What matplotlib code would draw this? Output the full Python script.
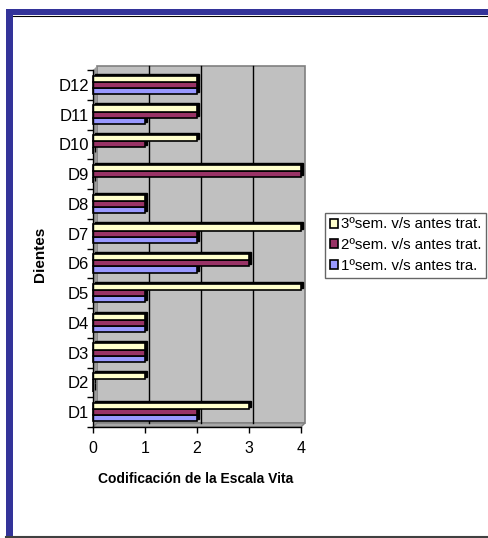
import matplotlib
matplotlib.use("Agg")
import matplotlib.pyplot as plt
from matplotlib.patches import Rectangle, Polygon
from matplotlib.lines import Line2D
import numpy as np

plt.rcParams['font.family'] = ['Liberation Sans', 'DejaVu Sans']

categories = ["D1", "D2", "D3", "D4", "D5", "D6", "D7", "D8", "D9", "D10", "D11", "D12"]
sem1 = [2, 0, 1, 1, 1, 2, 2, 1, 0, 0, 1, 2]
sem2 = [2, 0, 1, 1, 1, 3, 2, 1, 4, 1, 2, 2]
sem3 = [3, 1, 1, 1, 4, 3, 4, 1, 4, 2, 2, 2]
series_names = ["1ºsem. v/s antes tra.", "2ºsem. v/s antes trat.", "3ºsem. v/s antes trat."]
colors = ["#9999FF", "#993366", "#FFFFCC"]
xticks = [0, 1, 2, 3, 4]

W, H = 488, 538
fig = plt.figure(figsize=(W / 100, H / 100), dpi=100)
fig.patch.set_facecolor("white")

# outer frame
fig.add_artist(Rectangle((6 / W, 1 - 15 / H), 1 - 6 / W, 6 / H, transform=fig.transFigure,
                         fc="#333399", ec="none"))
fig.add_artist(Rectangle((6 / W, 1 - 537 / H), 7 / W, 528 / H, transform=fig.transFigure,
                         fc="#333399", ec="none"))
fig.add_artist(Line2D([13 / W, 1], [1 - 15.5 / H, 1 - 15.5 / H], transform=fig.transFigure,
                      color="black", lw=0.8))
fig.add_artist(Line2D([6 / W, 1], [1 - 536.5 / H, 1 - 536.5 / H], transform=fig.transFigure,
                      color="#404040", lw=1.5))

# axes (front plane)
x0, x1, ytop, ybot = 93, 301, 70, 427
ax = fig.add_axes([x0 / W, 1 - ybot / H, (x1 - x0) / W, (ybot - ytop) / H])
ax.set_facecolor("none")
n = len(categories)
ax.set_xlim(0, 4)
ax.set_ylim(-0.5, n - 0.5)

DX = 4 * 4.0 / (x1 - x0)
DY = 4 * n / (ybot - ytop)

# back wall, side wall, floor
ax.add_patch(Rectangle((DX, -0.5 + DY), 4, n, fc="#C0C0C0", ec="#808080", lw=1.2, zorder=0, clip_on=False))
ax.add_patch(Polygon([(0, -0.5), (DX, -0.5 + DY), (DX, n - 0.5 + DY), (0, n - 0.5)],
                     closed=True, fc="#9A9A9A", ec="none", zorder=0.5, clip_on=False))
ax.add_patch(Polygon([(0, -0.5), (DX, -0.5 + DY), (4 + DX, -0.5 + DY), (4, -0.5)],
                     closed=True, fc="#A8A8A8", ec="#808080", lw=1, zorder=0.5, clip_on=False))
for v in xticks[1:-1]:
    ax.plot([v + DX, v + DX], [-0.5 + DY, n - 0.5 + DY], color="black", lw=1, zorder=0.8, clip_on=False)

# bars
y = np.arange(n)
bh = 0.21
offs = [-bh, 0, bh]
sdx, sdy = DX * 0.5, DY * 0.5
for vals, c, o in zip([sem1, sem2, sem3], colors, offs):
    ax.barh(y + o + sdy, vals, left=sdx, height=bh, color="black", edgecolor="black",
            lw=1, zorder=2, clip_on=False)
for vals, c, o, name in zip([sem1, sem2, sem3], colors, offs, series_names):
    ax.barh(y + o, vals, height=bh, color=c, edgecolor="black", lw=1.2, zorder=3,
            label=name, clip_on=False)

# spines / ticks
for s in ["top", "right"]:
    ax.spines[s].set_visible(False)
for s in ["left", "bottom"]:
    ax.spines[s].set_color("black")
    ax.spines[s].set_linewidth(1)
    ax.spines[s].set_zorder(4)

ax.set_xticks(xticks)
ax.set_xticklabels([str(v) for v in xticks], fontsize=11.5)
ax.tick_params(axis="x", length=4, width=1, pad=6, color="black")
ax.set_yticks(np.arange(-0.5, n, 1))
ax.set_yticklabels([])
ax.set_yticks(y, minor=True)
ax.set_yticklabels(categories, minor=True, fontsize=12)
ax.tick_params(axis="y", which="major", length=4, width=1, color="black")
ax.tick_params(axis="y", which="minor", length=0, pad=3)

fig.text(196 / W, 1 - 479 / H, "Codificación de la Escala Vita", ha="center", va="center",
         fontsize=10, fontweight="bold")
fig.text(40 / W, 1 - 254 / H, "Dientes", ha="center", va="center", rotation=90,
         fontsize=11, fontweight="bold")

handles, labels = ax.get_legend_handles_labels()
leg = fig.legend(handles[::-1], labels[::-1], loc="upper left",
                 bbox_to_anchor=(325 / W, 1 - 213 / H), fontsize=10.8, frameon=True,
                 handlelength=0.55, handleheight=0.55, handletextpad=0.2, labelspacing=0.45,
                 borderpad=0.3, borderaxespad=0, fancybox=False)
leg.get_frame().set_edgecolor("#404040")
leg.get_frame().set_linewidth(1)

fig.savefig("out.png", dpi=100)
